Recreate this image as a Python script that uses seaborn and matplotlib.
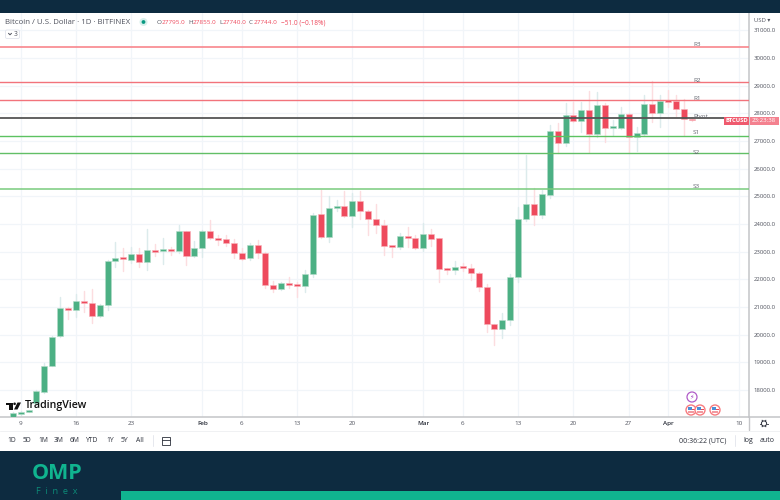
import numpy as np
import pandas as pd
import matplotlib
matplotlib.use("Agg")
import matplotlib.pyplot as plt
from matplotlib.patches import Rectangle, Circle, Polygon, FancyBboxPatch
import seaborn as sns

# ---------- data ----------
first_day = "2023-01-08"
opens = [17024,17133,17205,17530,17928,18868,19952,20965,20892,21218,21145,20675,21073,22664,22772,22700,22916,22628,23061,23025,23061,23025,23748,22844,
         23133,23748,23495,23458,23314,22953,22772,23242,22953,21796,21651,21868,21796,21760,22193,24362,23531,24579,24652,24290,24832,24471,24182,23965,23206,23170,23567,23495,
         23133,23639,23495,22374,22338,22446,22410,22230,21723,20386,20205,20530,22085,24182,24724,24326,25049,27363,26929,27941,27724,28122,27254,28303,27471,27471,27977,27146,27254,28339,28013,
         28484,28447,28158,27795]
closes = [17169,17205,17241,17963,18868,19916,20965,20892,21218,21145,20675,21073,22664,22772,22736,22916,22628,23061,22989,23097,23025,23748,22844,23133,
          23748,23495,23422,23314,22953,22736,23242,22953,21796,21651,21868,21796,21760,22193,24326,23531,24579,24615,24290,24832,24471,24182,23965,23206,23170,23567,23495,23133,
          23639,23458,22374,22338,22446,22410,22230,21723,20386,20205,20530,22085,24182,24724,24326,25085,27363,26929,27941,27724,28122,27254,28303,27471,27507,27977,27146,27291,28339,28013,28447,
          28411,28158,27797,27744]
highs = [17190,17240,17290,18000,18970,19950,21360,21000,21470,21580,21650,21120,22700,23340,23133,23170,23133,23820,23280,23510,23170,23970,23760,23370,
         23800,24145,23600,23600,23458,23133,23300,23422,23000,21940,21900,22090,21904,22338,24400,25240,25012,24868,25194,25120,25210,24490,24720,24145,23210,23675,23892,23603,
         24037,23820,23500,22400,22664,22590,22554,22260,21832,20400,20784,22193,24615,26500,25302,25230,27580,27650,28375,28400,28410,28810,28770,28375,27760,28230,28010,27510,28660,29170,28660,
         28845,28660,28520,27855]
lows = [17000,17100,17190,17500,17880,18850,19930,20570,20640,20820,20420,20640,20890,22450,22300,22590,22446,22340,22844,22560,22880,22950,22520,22800,
        22807,23460,23240,23200,22772,22700,22700,22772,21700,21540,21630,21687,21360,21540,22085,23510,23350,24471,24270,23892,24182,23603,23675,22880,22800,23080,23160,23100,
        23025,23206,21900,22193,22200,22300,21976,21579,20097,19630,19880,20340,21910,24100,23965,24218,24940,26560,26820,27700,27330,26600,27150,26965,27220,27450,26570,26640,27220,27690,27510,
        28230,27905,27220,27740]
level_names = ["R3", "R2", "R1", "Pivot", "S1", "S2", "S3"]
level_values = [30400, 29134, 28473, 27833, 27182, 26568, 25277]
level_colors = ["#f8868c", "#f2737b", "#f2737b", "#555555", "#5cc261", "#62bf66", "#79cb7d"]
level_widths = [1.2, 1.0, 1.0, 1.3, 1.0, 1.0, 1.1]
price_ticks = list(range(18000, 32000, 1000))
date_ticks = ["2023-01-09","2023-01-16","2023-01-23","2023-02-01","2023-02-06","2023-02-13","2023-02-20",
              "2023-03-01","2023-03-06","2023-03-13","2023-03-20","2023-03-27","2023-04-01","2023-04-10"]
date_labels = ["9","16","23","Feb","6","13","20","Mar","6","13","20","27","Apr","10"]
periods = ["1D","5D","1M","3M","6M","YTD","1Y","5Y","All"]

# ---------- colours ----------
NAVY = "#0d2b40"; TEAL = "#10b48f"; UP = "#4cb084"; DOWN = "#ee4a5d"
UP_W = "#dcebec"; DOWN_W = "#fcdde0"; GRID = "#f1f5f9"; TXT = "#50535e"; AX = "#c4c5c8"

sns.set_theme(style="white")
plt.rcParams["font.family"] = ["Open Sans", "DejaVu Sans"]

W, H = 780, 500
fig = plt.figure(figsize=(W / 100, H / 100), dpi=100, facecolor="white")
top, bottom, right = 13, 417, 749
ax = fig.add_axes([0, 1 - bottom / H, right / W, (bottom - top) / H])

df = pd.DataFrame({"date": pd.date_range(first_day, periods=len(opens)),
                   "open": opens, "close": closes, "high": highs, "low": lows})
df["up"] = df["close"] >= df["open"]

# wicks
wicks = df.melt(id_vars=["date", "up"], value_vars=["high", "low"], value_name="price")
sns.lineplot(data=wicks, x="date", y="price", hue="up", units="date", estimator=None,
             palette={True: UP_W, False: DOWN_W}, linewidth=1.05, legend=False, ax=ax, zorder=2)
# bodies
for up, g in df.groupby("up"):
    ax.bar(g["date"], (g["close"] - g["open"]).abs().clip(lower=60), bottom=g[["open", "close"]].min(axis=1),
           width=0.76, color=UP if up else DOWN, edgecolor="#b5dcc9" if up else "#f9b4bb", linewidth=0.4, zorder=3)
# levels
for v, c, w in zip(level_values, level_colors, level_widths):
    sns.lineplot(x=[df["date"].iloc[0] - pd.Timedelta(days=5), df["date"].iloc[-1] + pd.Timedelta(days=30)],
                 y=[v, v], color=c, linewidth=w, ax=ax, zorder=4)

ax.set_xlim(pd.Timestamp("2023-01-09") - pd.Timedelta(days=2.62), pd.Timestamp("2023-01-09") + pd.Timedelta(days=92.24))
ax.set_ylim(17024, 31628)
ax.set_xlabel(""); ax.set_ylabel("")
ax.yaxis.tick_right()
ax.set_yticks(price_ticks)
ax.set_yticklabels([f"{p:.1f}" for p in price_ticks], fontsize=4.3, color=TXT)
ax.set_xticks(pd.to_datetime(date_ticks))
ax.set_xticklabels(date_labels, fontsize=4.5, color=TXT)
for lab, t in zip(ax.get_xticklabels(), date_labels):
    if t in ("Feb", "Mar", "Apr"):
        lab.set_color("#2a2e39"); lab.set_fontweight("semibold")
ax.tick_params(axis="both", length=0, pad=3.5)
ax.tick_params(axis="x", pad=3.2)
ax.grid(True, color=GRID, linewidth=0.9)
ax.set_axisbelow(True)
for s in ["top", "left"]:
    ax.spines[s].set_visible(False)
for s in ["right", "bottom"]:
    ax.spines[s].set_color(AX); ax.spines[s].set_linewidth(1.1)

# ---------- overlay in pixel coordinates ----------
ov = fig.add_axes([0, 0, 1, 1], facecolor="none", zorder=10)
ov.set_xlim(0, W); ov.set_ylim(H, 0); ov.axis("off")

ov.add_patch(Rectangle((0, 0), W, 13, color=NAVY, lw=0))
ov.add_patch(Rectangle((0, 451), W, 49, color=NAVY, lw=0))
ov.add_patch(Rectangle((121, 491), W - 121, 9, color=TEAL, lw=0))
ov.plot([749, 780], [417, 417], color=AX, lw=1.1)
ov.plot([749, 749], [417, 430], color=AX, lw=1.0)
ov.plot([0, 780], [430.5, 430.5], color="#f0f1f3", lw=0.7)

# header
ov.text(5, 22.5, "Bitcoin / U.S. Dollar · 1D · BITFINEX", fontsize=5.65, color=TXT, va="center")
ov.add_patch(Circle((143.5, 22), 4, color="#d8f0ec", lw=0))
ov.add_patch(Circle((143.5, 22), 1.9, color="#089981", lw=0))
for xl, l, xv, v in [(157, "O", 162, "27795.0"), (188, "H", 193, "27855.0"),
                     (219, "L", 223, "27740.0"), (249, "C", 254, "27744.0")]:
    ov.text(xl, 22.5, l, fontsize=4.6, color=TXT, va="center")
    ov.text(xv, 22.5, v, fontsize=4.6, color=DOWN, va="center")
ov.text(281, 22.5, "−51.0 (−0.18%)", fontsize=4.7, color=DOWN, va="center")
ov.add_patch(FancyBboxPatch((5.5, 30), 14, 8.5, boxstyle="round,pad=0,rounding_size=1.5",
                            fc="white", ec="#e0e3eb", lw=0.6))
ov.plot([8.5, 10, 11.5], [33.3, 34.8, 33.3], color=TXT, lw=0.7)
ov.text(14, 34.3, "3", fontsize=4.8, color=TXT, va="center")

# level labels
for n, y in zip(level_names, [45, 80.5, 99, 116, 133, 152, 187]):
    ov.text(693, y, n, fontsize=4.6, color="#62656f", va="center")

# price axis extras
ov.text(754, 20, "USD ▾", fontsize=4.2, color=TXT, va="center")
ov.add_patch(Rectangle((724, 117), 25, 7.5, color="#ef5a6e", lw=0))
ov.add_patch(Rectangle((749.5, 117), 29, 7.5, color="#f4818f", lw=0))
ov.text(736.5, 120.9, "BTCUSD", fontsize=4.2, color="white", va="center", ha="center", fontweight="bold")
ov.text(764, 120.9, "23:23:38", fontsize=4.4, color="white", va="center", ha="center")

# TradingView logo
ov.add_patch(Rectangle((6, 402.5), 7, 2.4, color="#111111", lw=0))
ov.add_patch(Rectangle((9, 402.5), 4, 7, color="#111111", lw=0))
ov.add_patch(Circle((14.6, 403.8), 1.3, color="#111111", lw=0))
ov.add_patch(Polygon([(17.5, 402.5), (21, 402.5), (17.5, 409.5), (14, 409.5)], color="#111111", lw=0))
ov.text(25, 405.8, "TradingView", fontsize=7.7, color="#111111", va="center", fontweight="semibold")

# event markers
ov.add_patch(Circle((692, 397), 5, fc="white", ec="#b05cc8", lw=0.9))
ov.text(692, 397, "⚡", fontsize=4.6, color="#a03cc0", ha="center", va="center", family="DejaVu Sans")
for x in [691, 700, 715]:
    ov.add_patch(Circle((x, 410), 5, fc="white", ec="#f77c80", lw=1.0))
    ov.add_patch(Rectangle((x - 3.5, 408.8), 7, 1.4, color="#e94a55", lw=0))
    ov.add_patch(Rectangle((x - 3.2, 411.3), 6.5, 1.2, color="#f29aa0", lw=0))
    ov.add_patch(Rectangle((x - 3.2, 406.8), 3.8, 3.0, color="#4a8fd8", lw=0))

# bottom toolbar
for x, p in zip([12, 27, 43, 59, 75, 92.5, 110, 124.5, 139.5], periods):
    ov.text(x, 440.5, p, fontsize=4.9, color="#2a2e39", ha="center", va="center")
ov.plot([152.5, 152.5], [435, 446], color="#e6e8ee", lw=0.7)
ov.add_patch(Rectangle((162, 437), 8, 7.5, fc="none", ec="#2a2e39", lw=0.6))
ov.plot([162, 170], [439.5, 439.5], color="#2a2e39", lw=0.6)
ov.text(703, 440.5, "00:36:22 (UTC)", fontsize=5.0, color="#2a2e39", ha="center", va="center")
ov.plot([735, 735], [435, 446], color="#e6e8ee", lw=0.7)
ov.text(748, 440.5, "log", fontsize=5.0, color="#2a2e39", ha="center", va="center")
ov.text(767, 440.5, "auto", fontsize=5.0, color="#2a2e39", ha="center", va="center")
ov.add_patch(Circle((764, 423.5), 2.6, fc="white", ec="#2a2e39", lw=0.7))
for a in np.arange(0, 2 * np.pi, np.pi / 3):
    ov.plot([764 + 2.6 * np.cos(a), 764 + 3.8 * np.cos(a)], [423.5 + 2.6 * np.sin(a), 423.5 + 3.8 * np.sin(a)],
            color="#2a2e39", lw=0.7)

# brand
ov.text(57, 473.5, "OMP", fontsize=15.5, color=TEAL, ha="center", va="center", fontweight="bold")
ov.text(57, 491, "F  i  n  e  x", fontsize=6.6, color="#0c8b78", ha="center", va="center")

fig.savefig("out.png", dpi=100)
